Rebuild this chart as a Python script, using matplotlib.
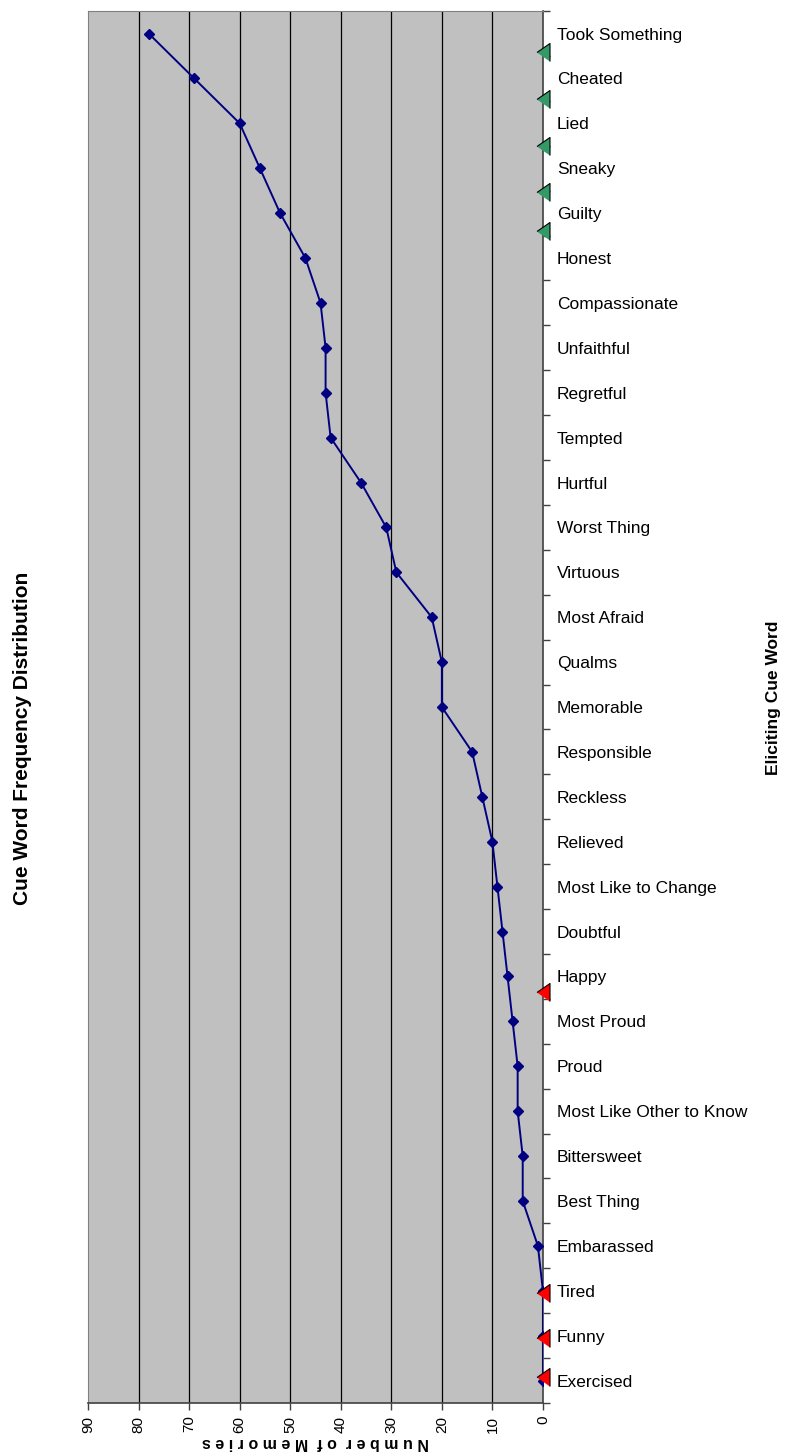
import matplotlib.pyplot as plt
import numpy as np

plt.rcParams['font.family'] = ['Liberation Sans', 'DejaVu Sans']

# Cue words, top to bottom
cue_words = ['Took Something', 'Cheated', 'Lied', 'Sneaky', 'Guilty', 'Honest',
             'Compassionate', 'Unfaithful', 'Regretful', 'Tempted', 'Hurtful',
             'Worst Thing', 'Virtuous', 'Most Afraid', 'Qualms', 'Memorable',
             'Responsible', 'Reckless', 'Relieved', 'Most Like to Change',
             'Doubtful', 'Happy', 'Most Proud', 'Proud', 'Most Like Other to Know',
             'Bittersweet', 'Best Thing', 'Embarassed', 'Tired', 'Funny', 'Exercised']
memories = [78, 69, 60, 56, 52, 47, 44, 43, 43, 42, 36, 31, 29, 22, 20, 20,
            14, 12, 10, 9, 8, 7, 6, 5, 5, 4, 4, 1, 0, 0, 0]

# flagged cue words (triangles on the zero line), drawn by hand in the original
green_flags = ['Took Something', 'Cheated', 'Lied', 'Sneaky', 'Guilty']
green_shift = [0.41, 0.46, 0.5, 0.52, 0.4]
red_flags = ['Happy', 'Tired', 'Funny', 'Exercised']
red_shift = [0.35, 0.04, 0.06, -0.07]

x_ticks = [0, 10, 20, 30, 40, 50, 60, 70, 80, 90]

fig = plt.figure(figsize=(7.88, 14.56), dpi=100)
ax = fig.add_axes([0.1117, 0.0364, 0.5773, 0.956])
ax.set_facecolor('#C0C0C0')

pos = np.arange(len(cue_words))
ax.plot(memories, pos, color='#000080', linewidth=1.4, marker='D',
        markersize=5, zorder=3)

# left-pointing triangles, a bit taller than wide
tri = [(-0.72, 0), (0.72, 1), (0.72, -1)]
for names, shift, col in [(green_flags, green_shift, '#339966'),
                          (red_flags, red_shift, '#FF0000')]:
    yy = [cue_words.index(n) + s for n, s in zip(names, shift)]
    ax.plot([0] * len(yy), yy, linestyle='none', marker=tri, markersize=13,
            markerfacecolor=col, markeredgecolor='black', markeredgewidth=0.8,
            clip_on=False, zorder=4)

ax.set_xlim(90, 0)
ax.set_ylim(len(cue_words) - 0.5, -0.5)

ax.set_xticks(x_ticks)
ax.set_xticklabels([str(t) for t in x_ticks], rotation=90, fontsize=11)
ax.tick_params(axis='x', direction='out', length=5, width=1, color='#404040', pad=4)
for t in x_ticks[1:-1]:
    ax.axvline(t, color='black', linewidth=0.9, zorder=1)

# ticks between categories, labels at the centres
ax.yaxis.tick_right()
ax.set_yticks(np.arange(len(cue_words) + 1) - 0.5)
ax.set_yticklabels([])
ax.set_yticks(pos, minor=True)
ax.set_yticklabels(cue_words, minor=True, fontsize=12.5)
ax.tick_params(axis='y', which='major', direction='out', length=5, width=1, color='#404040')
ax.tick_params(axis='y', which='minor', length=0, pad=10)

for side in ['top', 'left']:
    ax.spines[side].set_color('#808080')
for side in ['bottom', 'right']:
    ax.spines[side].set_color('#404040')
    ax.spines[side].set_linewidth(1.2)

ax.set_xlabel('N u m b e r  o f  M e m o r i e s', rotation=180, fontsize=11.5,
              fontweight='bold', labelpad=2)

fig.text(0.028, 0.493, 'Cue Word Frequency Distribution', rotation=90,
         ha='center', va='center', fontsize=15, fontweight='bold')
fig.text(0.981, 0.521, 'Eliciting Cue Word', rotation=90,
         ha='center', va='center', fontsize=12.5, fontweight='bold')

plt.savefig('out.png', dpi=100)
